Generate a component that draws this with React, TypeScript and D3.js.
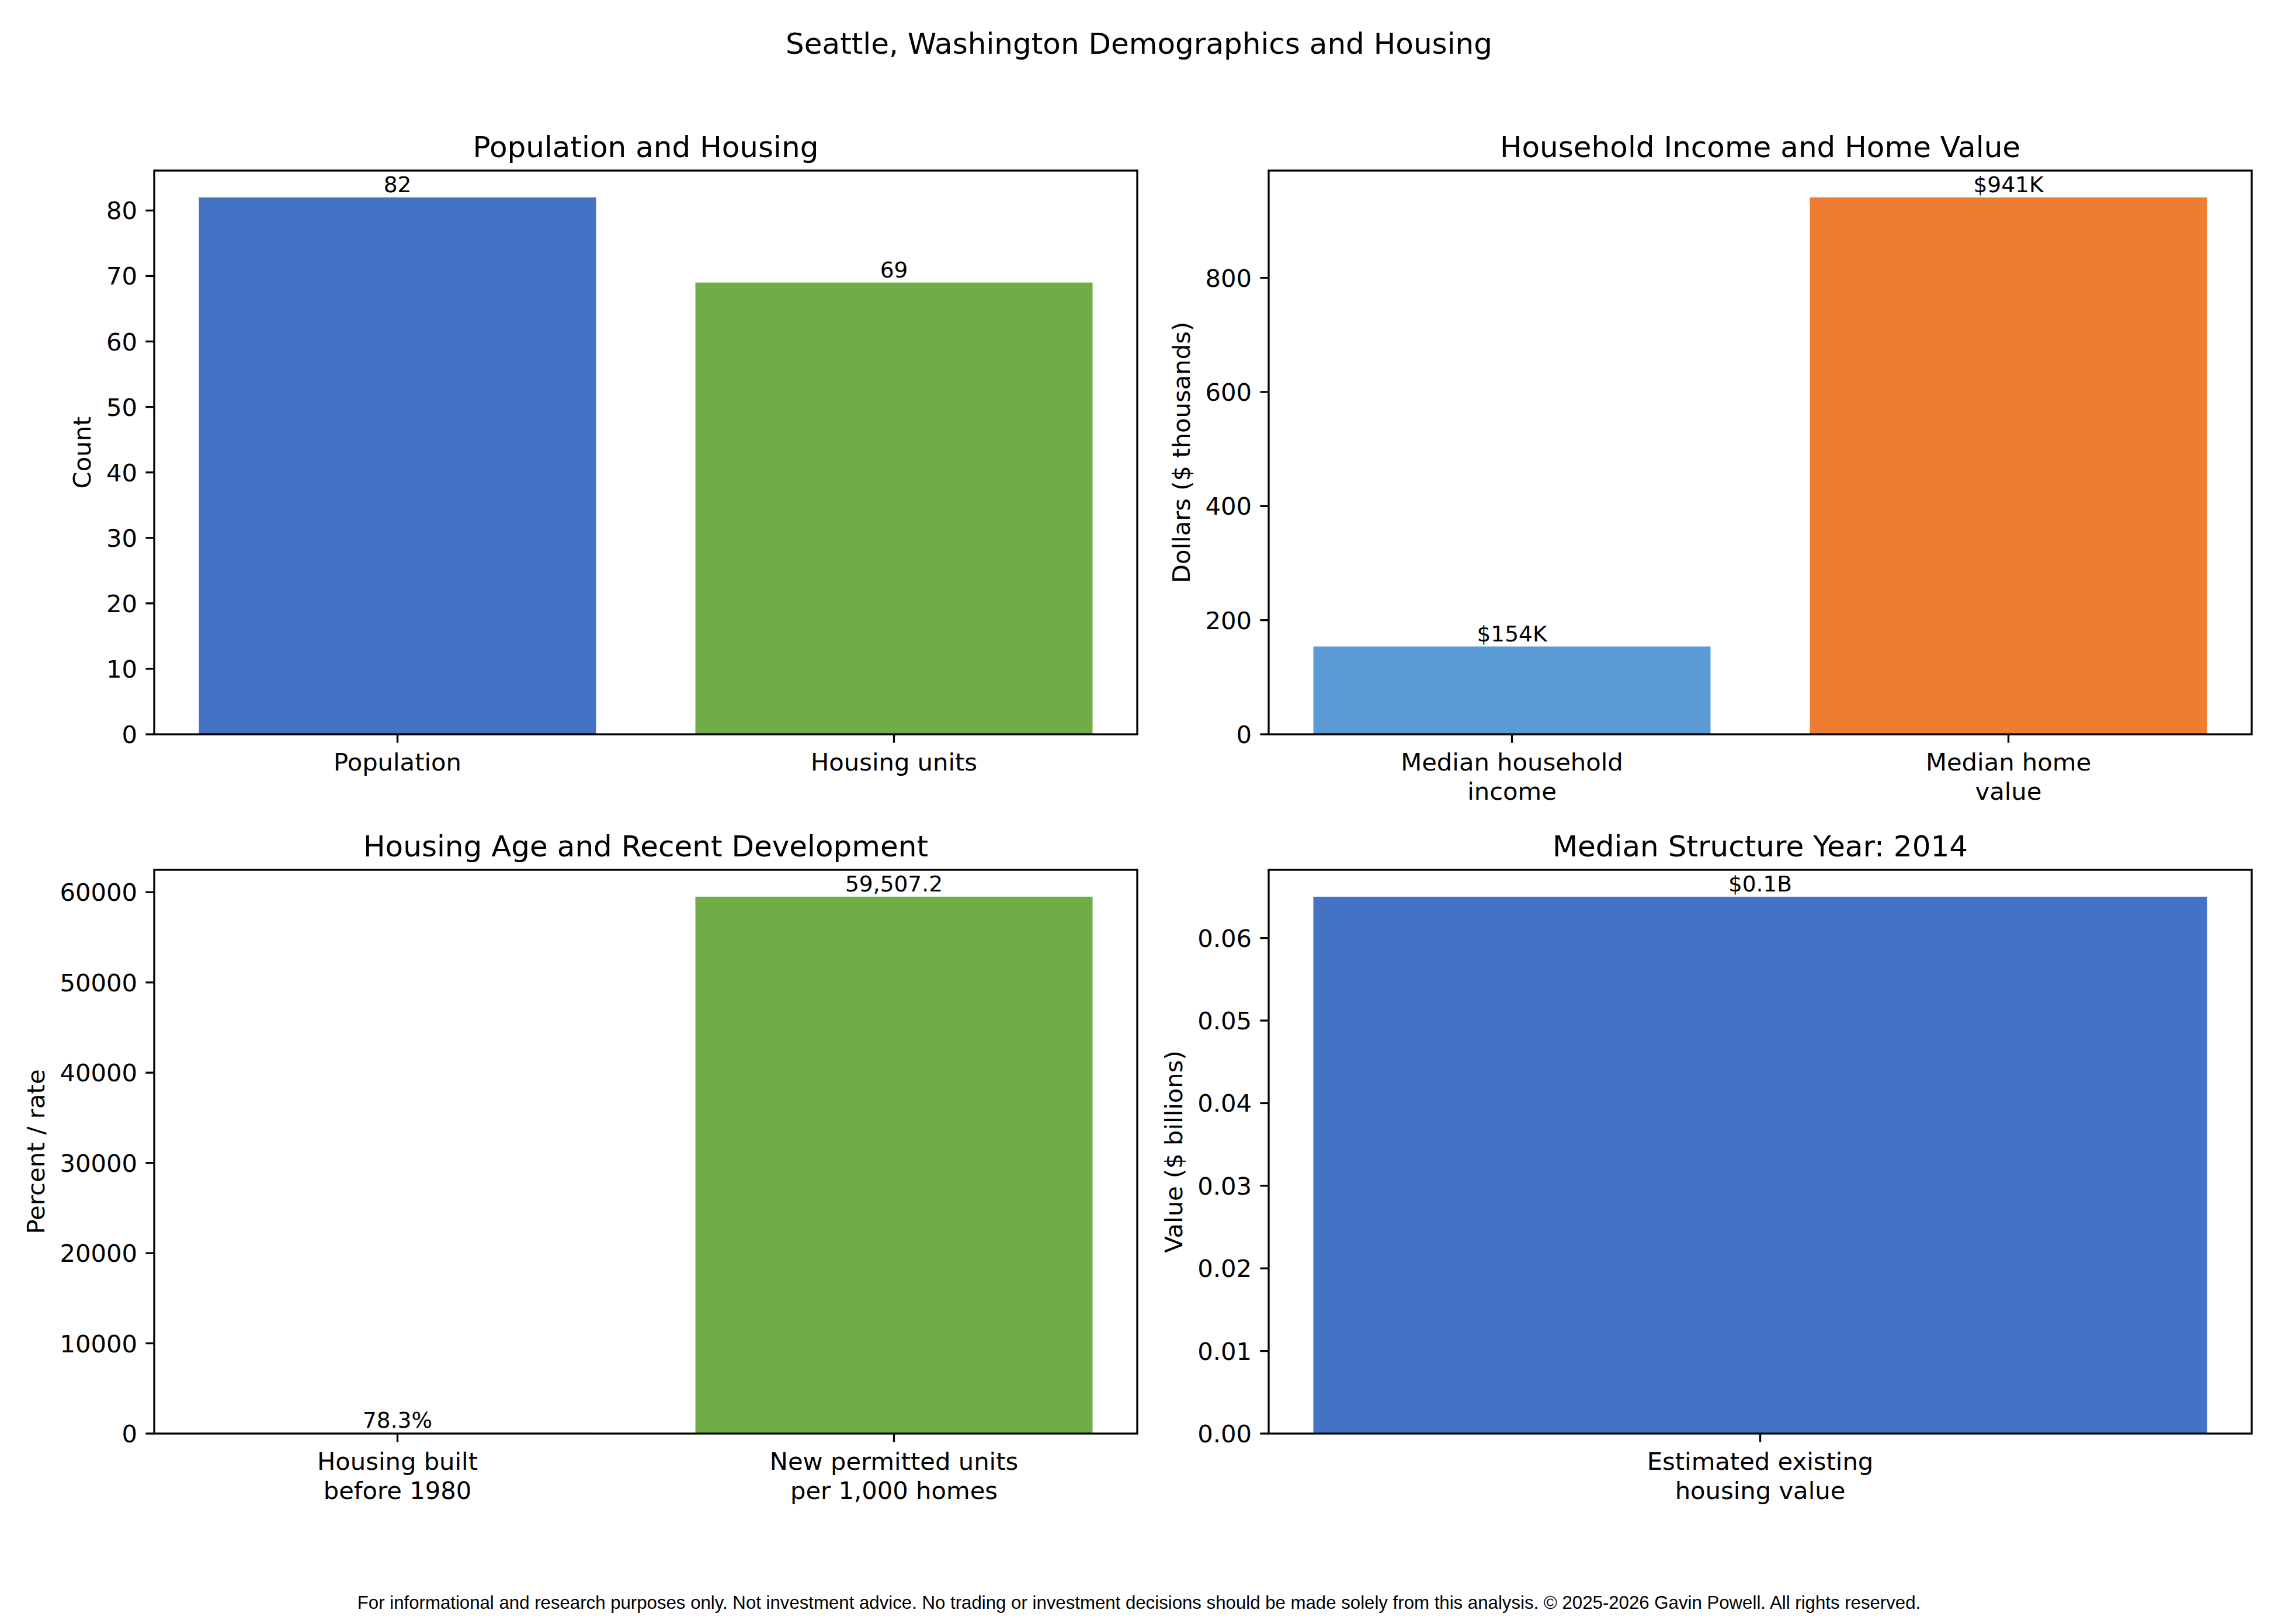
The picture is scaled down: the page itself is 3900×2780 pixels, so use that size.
import React from 'react';
import * as d3 from 'd3';

// figure: 3900 x 2780 px, matplotlib-like look at 300 dpi
const FIG_W = 3900;
const FIG_H = 2780;

const suptitle = 'Seattle, Washington Demographics and Housing';
const footer =
  'For informational and research purposes only. Not investment advice. No trading or investment decisions should be made solely from this analysis. © 2025-2026 Gavin Powell. All rights reserved.';

// panel 1
const popTitle = 'Population and Housing';
const popLabels = [['Population'], ['Housing units']];
const popValues = [82, 69];
const popText = ['82', '69'];

// panel 2
const incomeTitle = 'Household Income and Home Value';
const incomeLabels = [['Median household', 'income'], ['Median home', 'value']];
const incomeValues = [154, 941];
const incomeText = ['$154K', '$941K'];

// panel 3
const ageTitle = 'Housing Age and Recent Development';
const ageLabels = [['Housing built', 'before 1980'], ['New permitted units', 'per 1,000 homes']];
const ageValues = [78.3, 59507.2];
const ageText = ['78.3%', '59,507.2'];

// panel 4
const valueTitle = 'Median Structure Year: 2014';
const valueLabels = [['Estimated existing', 'housing value']];
const valueValues = [0.065];
const valueText = ['$0.1B'];

const FONT = '"DejaVu Sans", sans-serif';
const TICK_FS = 41.7;
const TITLE_FS = 50;
const BAR_FS = 37.5;
const LW = 3.3;
const TICK_LEN = 14.6;

const cols = [
  { x0: 264, x1: 1947 },
  { x0: 2172, x1: 3855 },
];
const rows = [
  { y0: 292, y1: 1257 },
  { y0: 1489, y1: 2454 },
];

const charW: { [k: string]: number } = { '.': 0.318, ',': 0.318, '-': 0.361 };
function textWidth(s: string, fs: number) {
  let w = 0;
  for (const c of s) w += charW[c] ?? 0.636;
  return w * fs;
}

interface PanelProps {
  title: string;
  labels: string[][];
  values: number[];
  texts: string[];
  colors: string[];
  yLabel: string;
  ticks: number;
  fmt: (v: number) => string;
  box: { x0: number; x1: number; y0: number; y1: number };
}

const Panel = ({ title, labels, values, texts, colors, yLabel, ticks, fmt, box }: PanelProps) => {
  const n = values.length;
  const pad = 0.05 * (n - 1 + 0.8);
  const x = d3.scaleLinear().domain([-0.4 - pad, n - 1 + 0.4 + pad]).range([box.x0, box.x1]);
  const y = d3
    .scaleLinear()
    .domain([0, (d3.max(values) as number) * 1.05])
    .range([box.y1, box.y0]);
  const yTicks = y.ticks(ticks);
  const maxW = d3.max(yTicks, (t) => textWidth(fmt(t), TICK_FS)) as number;
  const labelX = box.x0 - 55.5 - maxW;
  const midY = (box.y0 + box.y1) / 2;

  return (
    <g>
      <text x={(box.x0 + box.x1) / 2} y={box.y0 - 23} fontSize={TITLE_FS} textAnchor='middle'>
        {title}
      </text>
      {values.map((v, i) => (
        <rect
          key={'b' + i}
          x={x(i - 0.4)}
          width={x(i + 0.4) - x(i - 0.4)}
          y={y(v)}
          height={box.y1 - y(v)}
          fill={colors[i]}
        />
      ))}
      {values.map((v, i) => (
        <text key={'t' + i} x={x(i)} y={y(v) - 9} fontSize={BAR_FS} textAnchor='middle'>
          {texts[i]}
        </text>
      ))}
      {yTicks.map((t) => (
        <g key={'y' + t}>
          <line x1={box.x0 - TICK_LEN} x2={box.x0} y1={y(t)} y2={y(t)} stroke='black' strokeWidth={LW} />
          <text x={box.x0 - 29} y={y(t) + 15} fontSize={TICK_FS} textAnchor='end'>
            {fmt(t)}
          </text>
        </g>
      ))}
      {labels.map((lines, i) => (
        <g key={'x' + i}>
          <line x1={x(i)} x2={x(i)} y1={box.y1} y2={box.y1 + TICK_LEN} stroke='black' strokeWidth={LW} />
          {lines.map((s, j) => (
            <text key={j} x={x(i)} y={box.y1 + 62 + j * 50} fontSize={TICK_FS} textAnchor='middle'>
              {s}
            </text>
          ))}
        </g>
      ))}
      <text
        transform={`translate(${labelX}, ${midY}) rotate(-90)`}
        fontSize={TICK_FS}
        textAnchor='middle'
      >
        {yLabel}
      </text>
      <rect
        x={box.x0}
        y={box.y0}
        width={box.x1 - box.x0}
        height={box.y1 - box.y0}
        fill='none'
        stroke='black'
        strokeWidth={LW}
      />
    </g>
  );
};

const intFmt = d3.format('d');
const twoDec = d3.format('.2f');

const App = () => {
  return (
    <svg
      width={FIG_W}
      height={FIG_H}
      style={{ position: 'absolute', left: 0, top: 0, background: 'white' }}
      fontFamily={FONT}
    >
      <rect width={FIG_W} height={FIG_H} fill='white' />
      <text x={FIG_W / 2} y={92} fontSize={TITLE_FS} textAnchor='middle'>
        {suptitle}
      </text>
      <Panel
        title={popTitle}
        labels={popLabels}
        values={popValues}
        texts={popText}
        colors={['#4472C4', '#70AD47']}
        yLabel='Count'
        ticks={10}
        fmt={intFmt}
        box={{ ...cols[0], ...rows[0] }}
      />
      <Panel
        title={incomeTitle}
        labels={incomeLabels}
        values={incomeValues}
        texts={incomeText}
        colors={['#5B9BD5', '#ED7D31']}
        yLabel='Dollars ($ thousands)'
        ticks={5}
        fmt={intFmt}
        box={{ ...cols[1], ...rows[0] }}
      />
      <Panel
        title={ageTitle}
        labels={ageLabels}
        values={ageValues}
        texts={ageText}
        colors={['#5B9BD5', '#70AD47']}
        yLabel='Percent / rate'
        ticks={7}
        fmt={intFmt}
        box={{ ...cols[0], ...rows[1] }}
      />
      <Panel
        title={valueTitle}
        labels={valueLabels}
        values={valueValues}
        texts={valueText}
        colors={['#4472C4']}
        yLabel='Value ($ billions)'
        ticks={7}
        fmt={twoDec}
        box={{ ...cols[1], ...rows[1] }}
      />
      <text
        x={FIG_W / 2}
        y={2754}
        fontSize={31.2}
        textAnchor='middle'
        fontFamily='"Liberation Sans", Arial, sans-serif'
      >
        {footer}
      </text>
    </svg>
  );
};

export default App;
